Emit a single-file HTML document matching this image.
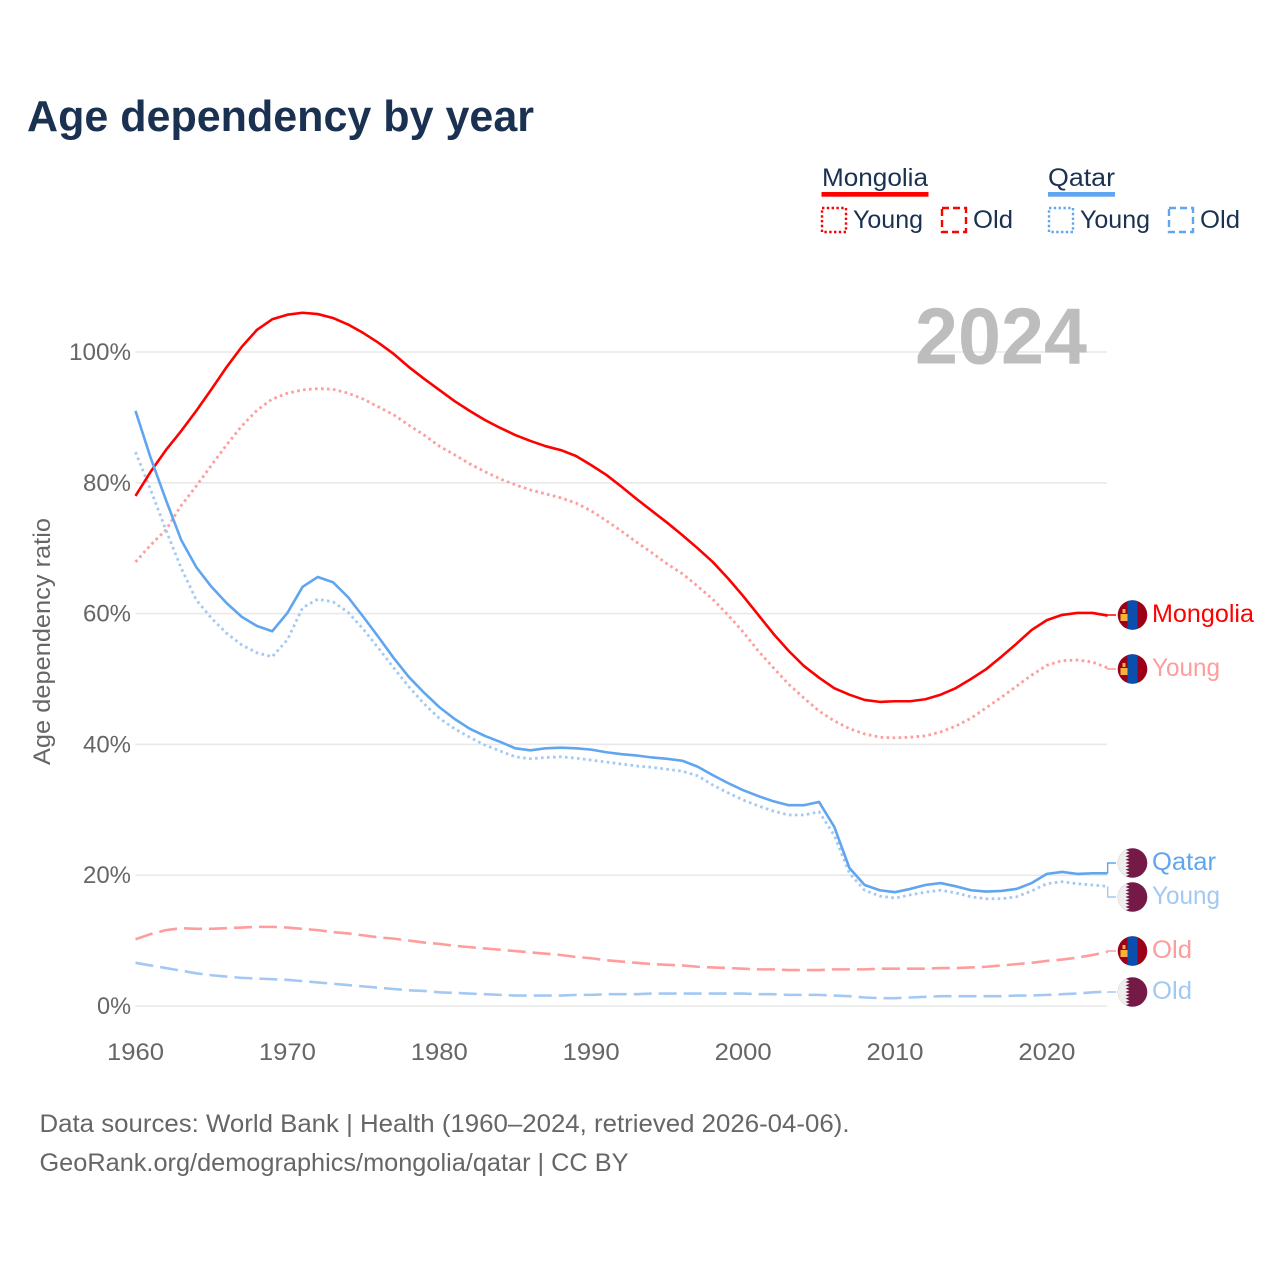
<!DOCTYPE html>
<html lang="en">
<head>
<meta charset="utf-8">
<title>Age dependency by year</title>
<style>
html,body{margin:0;padding:0;background:#fff}
svg{display:block}
text{font-family:"Liberation Sans",sans-serif}
</style>
</head>
<body>
<svg id="chart" xmlns="http://www.w3.org/2000/svg" width="1280" height="1280" viewBox="0 0 1280 1280">
  <defs>
    <clipPath id="flag-clip"><circle cx="0" cy="0" r="14.8"/></clipPath>
    <g id="flag-mn" clip-path="url(#flag-clip)">
      <rect x="-15" y="-15" width="30" height="30" fill="#9c0018"/>
      <rect x="-5" y="-15" width="10" height="30" fill="#0a4fae"/>
      <rect x="-12" y="-1" width="7" height="7" fill="#f2b53a"/>
      <rect x="-10" y="-6" width="3" height="4" fill="#f2b53a"/>
    </g>
    <g id="flag-qa" clip-path="url(#flag-clip)">
      <rect x="-15" y="-15" width="30" height="30" fill="#751a46"/>
      <path d="M-15-15H-3L-7-13.33-3-11.67-7-10-3-8.33-7-6.67-3-5-7-3.33-3-1.67-7 0-3 1.67-7 3.33-3 5-7 6.67-3 8.33-7 10-3 11.67-7 13.33-3 15H-15Z" fill="#eeeeee"/>
    </g>
  </defs>

  <text x="27" y="131" font-size="44" font-weight="700" fill="#1a3151" textLength="507" lengthAdjust="spacingAndGlyphs">Age dependency by year</text>

  <g font-size="25" fill="#1a3151">
    <text x="822" y="186" textLength="106" lengthAdjust="spacingAndGlyphs">Mongolia</text>
    <rect x="821.5" y="192" width="107" height="4.7" fill="#ff0000"/>
    <rect x="822" y="208" width="24" height="24" fill="none" stroke="#ff0000" stroke-width="2.4" stroke-dasharray="2.4 2.4"/>
    <text x="853" y="228" textLength="70" lengthAdjust="spacingAndGlyphs">Young</text>
    <rect x="942" y="208" width="24" height="24" fill="none" stroke="#ff0000" stroke-width="2.4" stroke-dasharray="7 4"/>
    <text x="973" y="228" textLength="40" lengthAdjust="spacingAndGlyphs">Old</text>
    <text x="1048" y="186" textLength="67" lengthAdjust="spacingAndGlyphs">Qatar</text>
    <rect x="1048" y="192" width="67" height="4.7" fill="#60a5ef"/>
    <rect x="1049" y="208" width="24" height="24" fill="none" stroke="#60a5ef" stroke-width="2.4" stroke-dasharray="2.4 2.4"/>
    <text x="1080" y="228" textLength="70" lengthAdjust="spacingAndGlyphs">Young</text>
    <rect x="1169" y="208" width="24" height="24" fill="none" stroke="#60a5ef" stroke-width="2.4" stroke-dasharray="7 4"/>
    <text x="1200" y="228" textLength="40" lengthAdjust="spacingAndGlyphs">Old</text>
  </g>

  <g id="grid"></g>
  <text x="915" y="363.5" font-size="80" font-weight="700" fill="#bdbdbd" textLength="172" lengthAdjust="spacingAndGlyphs">2024</text>
  <g id="y-axis"></g>
  <g id="x-axis"></g>
  <text transform="translate(50 641.5) rotate(-90)" text-anchor="middle" font-size="24" fill="#666666" textLength="247" lengthAdjust="spacingAndGlyphs">Age dependency ratio</text>
  <g id="series"></g>
  <g id="ends"></g>

  <text x="39.5" y="1132" font-size="25" fill="#666666" textLength="810" lengthAdjust="spacingAndGlyphs">Data sources: World Bank | Health (1960–2024, retrieved 2026-04-06).</text>
  <text x="39.5" y="1171" font-size="25" fill="#666666" textLength="589" lengthAdjust="spacingAndGlyphs">GeoRank.org/demographics/mongolia/qatar | CC BY</text>
</svg>
<script>
const years = [1960,1961,1962,1963,1964,1965,1966,1967,1968,1969,1970,1971,1972,1973,1974,1975,1976,1977,1978,1979,1980,1981,1982,1983,1984,1985,1986,1987,1988,1989,1990,1991,1992,1993,1994,1995,1996,1997,1998,1999,2000,2001,2002,2003,2004,2005,2006,2007,2008,2009,2010,2011,2012,2013,2014,2015,2016,2017,2018,2019,2020,2021,2022,2023,2024];
const xTicks = [1960,1970,1980,1990,2000,2010,2020];
const yTicks = [0,20,40,60,80,100];
const mongoliaTotal = [78.0,81.7,85.0,87.9,91.0,94.3,97.7,100.8,103.4,105.0,
  105.7,106.0,105.8,105.2,104.2,102.9,101.4,99.7,97.7,95.9,
  94.2,92.5,91.0,89.6,88.4,87.3,86.4,85.6,85.0,84.1,
  82.7,81.2,79.4,77.5,75.7,73.9,72.0,70.0,67.9,65.4,
  62.7,59.8,56.9,54.3,52.0,50.2,48.6,47.6,46.8,46.5,
  46.6,46.6,46.9,47.6,48.6,50.0,51.5,53.4,55.4,57.5,
  59.0,59.8,60.1,60.1,59.7];
const mongoliaYoung = [67.9,70.5,72.8,76.5,79.5,82.7,85.8,88.7,91.1,92.8,
  93.7,94.2,94.4,94.3,93.7,92.8,91.6,90.4,88.8,87.3,
  85.6,84.3,82.9,81.7,80.6,79.7,78.9,78.3,77.7,76.9,
  75.7,74.2,72.6,70.9,69.3,67.6,66.1,64.2,62.2,59.8,
  57.2,54.3,51.7,49.2,47.1,45.1,43.6,42.4,41.6,41.1,
  41.0,41.1,41.3,41.9,42.8,44.0,45.6,47.2,48.9,50.6,
  52.1,52.8,52.9,52.6,51.7];
const mongoliaOld = [10.2,11.0,11.6,11.9,11.8,11.8,11.9,12.0,12.1,12.1,
  12.0,11.8,11.6,11.3,11.1,10.8,10.5,10.3,10.0,9.7,
  9.5,9.2,9.0,8.8,8.6,8.4,8.2,8.0,7.8,7.5,
  7.3,7.0,6.8,6.6,6.4,6.3,6.2,6.0,5.9,5.8,
  5.7,5.6,5.6,5.5,5.5,5.5,5.6,5.6,5.6,5.7,
  5.7,5.7,5.7,5.8,5.8,5.9,6.0,6.2,6.4,6.6,
  6.9,7.1,7.4,7.8,8.3];
const qatarTotal = [91.0,83.8,77.4,71.3,67.1,64.1,61.6,59.5,58.1,57.3,
  60.1,64.1,65.6,64.8,62.5,59.5,56.4,53.2,50.3,47.9,
  45.7,43.9,42.4,41.3,40.4,39.4,39.1,39.4,39.5,39.4,
  39.2,38.8,38.5,38.3,38.0,37.8,37.5,36.6,35.3,34.1,
  33.0,32.1,31.3,30.7,30.7,31.2,27.4,21.1,18.5,17.7,
  17.4,17.9,18.5,18.8,18.3,17.7,17.5,17.6,17.9,18.8,
  20.2,20.5,20.2,20.3,20.3];
const qatarYoung = [84.7,78.9,72.8,67.0,62.1,59.3,57.0,55.2,54.0,53.4,
  56.0,60.9,62.2,61.8,60.2,57.6,54.7,51.7,48.8,46.2,
  44.0,42.4,41.1,39.9,39.0,38.1,37.8,38.0,38.1,37.9,
  37.6,37.3,37.0,36.7,36.5,36.2,35.9,35.2,33.8,32.6,
  31.5,30.6,29.8,29.2,29.2,29.7,26.1,20.3,17.7,16.8,
  16.5,17.0,17.4,17.7,17.3,16.7,16.4,16.4,16.7,17.6,
  18.7,19.0,18.7,18.5,18.3];
const qatarOld = [6.6,6.2,5.8,5.4,5.0,4.7,4.5,4.3,4.2,4.1,
  4.0,3.8,3.6,3.4,3.2,3.0,2.8,2.6,2.4,2.3,
  2.1,2.0,1.9,1.8,1.7,1.6,1.6,1.6,1.6,1.7,
  1.7,1.8,1.8,1.8,1.9,1.9,1.9,1.9,1.9,1.9,
  1.9,1.8,1.8,1.7,1.7,1.7,1.6,1.5,1.3,1.2,
  1.2,1.3,1.4,1.5,1.5,1.5,1.5,1.5,1.6,1.6,
  1.7,1.8,1.9,2.1,2.2];

const NS = 'http://www.w3.org/2000/svg';
function xScale(year){ return 135.5 + (year - 1960) * 15.19; }
function yScale(pct){ return 1006 - pct * 6.54; }
function make(tag, attrs, parent){
  const el = document.createElementNS(NS, tag);
  for (const k in attrs) el.setAttribute(k, attrs[k]);
  parent.appendChild(el);
  return el;
}

const grid = document.getElementById('grid');
const yAxis = document.getElementById('y-axis');
const xAxis = document.getElementById('x-axis');
const seriesGroup = document.getElementById('series');
const ends = document.getElementById('ends');

yTicks.forEach(function(t){
  const line = make('line', {x1:135.5, x2:1107, y1:yScale(t), y2:yScale(t), stroke:'#e9e9e9', 'stroke-width':1.6}, grid);
  
  
  const label = String(t) + '%';
  const lab = make('text', {x:131, y:yScale(t) + 8, 'text-anchor':'end', 'font-size':24, fill:'#666666', textLength:String(t).length * 14 + 20, lengthAdjust:'spacingAndGlyphs'}, yAxis);
  
  
  lab.textContent = label;
});

xTicks.forEach(function(t){
  const lab = make('text', {x:xScale(t), y:1060, 'text-anchor':'middle', 'font-size':24, fill:'#666666', textLength:57, lengthAdjust:'spacingAndGlyphs'}, xAxis);
  
  
  lab.textContent = String(t);
});

function drawLine(values, color, dash, width, name){
  const d = values.map(function(v, i){
    return (i ? 'L' : 'M') + xScale(years[i]).toFixed(2) + ' ' + yScale(v).toFixed(2);
  }).join('');
  const path = make('path', {d:d, fill:'none', stroke:color, 'stroke-width':width, 'stroke-linejoin':'round'}, seriesGroup);
  if (dash) path.setAttribute('stroke-dasharray', dash);
  
  
}

const RED = '#ff0000', BLUE = '#60a5ef', LRED = '#ff9c9c', LBLUE = '#a3c9f3';
const DOT = '2.6 3.4', DASH = '18 7';
drawLine(mongoliaOld, LRED, DASH, 2.6, 'line-mongolia-old');
drawLine(qatarOld, LBLUE, DASH, 2.6, 'line-qatar-old');
drawLine(mongoliaYoung, LRED, DOT, 2.8, 'line-mongolia-young');
drawLine(qatarYoung, LBLUE, DOT, 2.8, 'line-qatar-young');
drawLine(mongoliaTotal, RED, null, 2.6, 'line-mongolia-total');
drawLine(qatarTotal, BLUE, null, 2.6, 'line-qatar-total');

function endLabel(values, labelY, flag, text, color, name){
  const last = values[values.length - 1];
  const conn = make('path', {d:'M' + xScale(years[years.length - 1]) + ' ' + yScale(last) + 'V' + labelY + 'H1116', fill:'none', stroke:color, 'stroke-width':1.4}, ends);
  
  
  const use = make('use', {href:'#' + flag, transform:'translate(1132.5 ' + labelY + ')'}, ends);
  
  
  const widths = {Mongolia:102, Young:68, Qatar:64, Old:40};
  const lab = make('text', {x:1152, y:labelY + 7, 'font-size':25, fill:color, textLength:widths[text], lengthAdjust:'spacingAndGlyphs'}, ends);
  
  
  lab.textContent = text;
}
endLabel(mongoliaTotal, 615, 'flag-mn', 'Mongolia', RED, 'end-mongolia-total');
endLabel(mongoliaYoung, 669, 'flag-mn', 'Young', LRED, 'end-mongolia-young');
endLabel(qatarTotal, 863, 'flag-qa', 'Qatar', BLUE, 'end-qatar-total');
endLabel(qatarYoung, 897, 'flag-qa', 'Young', LBLUE, 'end-qatar-young');
endLabel(mongoliaOld, 951, 'flag-mn', 'Old', LRED, 'end-mongolia-old');
endLabel(qatarOld, 992, 'flag-qa', 'Old', LBLUE, 'end-qatar-old');
</script>
</body>
</html>
